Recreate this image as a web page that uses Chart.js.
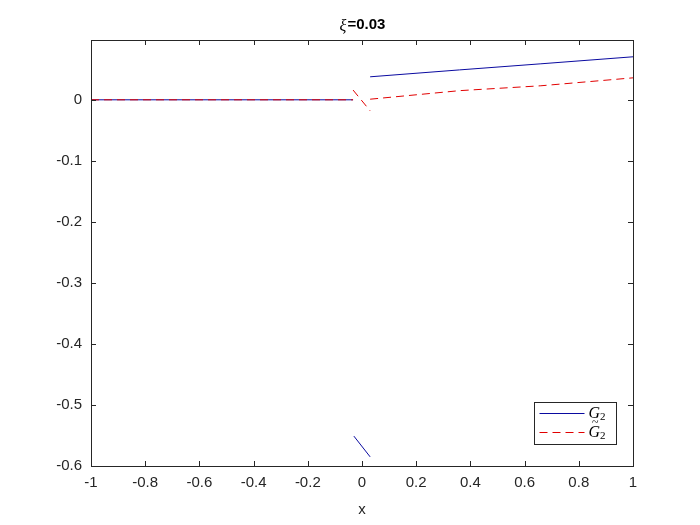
<!DOCTYPE html>
<html lang="en">
<head>
    <meta charset="UTF-8">
    <title>xi=0.03</title>
    <script src="https://cdn.jsdelivr.net/npm/chart.js"></script>
    <style>
        body { margin: 0; background: #fff; }
        #wrap { width: 700px; height: 525px; }
    </style>
</head>
<body>
    <div id="wrap"><canvas id="plot" width="700" height="525"></canvas></div>

    <script>
        // valeurs (null = coupure du trait)
        const g2X = [-1, -0.033, -0.033, -0.03, 0.03, 0.03, 0.03, 0.36, 0.66, 1];
        const g2Y = [0, 0, null, -0.551, -0.585, null, 0.0377, 0.049, 0.059, 0.0705];

        const g2tX = [-1, -0.033, -0.033, -0.033, 0.03, 0.03, 0.03, 0.36, 0.66, 1];
        const g2tY = [0, 0, null, 0.016, -0.018, null, 0.001, 0.015, 0.023, 0.036];

        const xTicks = [-1, -0.8, -0.6, -0.4, -0.2, 0, 0.2, 0.4, 0.6, 0.8, 1];
        const yTicks = [-0.6, -0.5, -0.4, -0.3, -0.2, -0.1, 0];

        const titleText = '=0.03';
        const legendLabels = ['G\u2082', 'G\u0303\u2082'];

        const pts = (xs, ys) => xs.map((x, i) => ({ x: x, y: ys[i] }));
        const fmt = v => String(Math.round(v * 10) / 10);
        const FONT = '"Liberation Sans", Arial, sans-serif';
        const SERIF = '"Liberation Serif", "DejaVu Serif", serif';

        // cadre, graduations vers l'intérieur, titre et légende façon MATLAB
        const matlabAxes = {
            id: 'matlabAxes',
            afterDraw(chart) {
                const c = chart.ctx, a = chart.chartArea;
                const xs = chart.scales.x, ys = chart.scales.y;
                c.save();
                c.strokeStyle = '#262626';
                c.lineWidth = 1;
                c.strokeRect(Math.round(a.left) + 0.5, Math.round(a.top) + 0.5,
                             Math.round(a.right - a.left), Math.round(a.bottom - a.top));
                c.beginPath();
                xTicks.forEach(v => {
                    const px = Math.round(xs.getPixelForValue(v)) + 0.5;
                    c.moveTo(px, a.bottom); c.lineTo(px, a.bottom - 5);
                    c.moveTo(px, a.top); c.lineTo(px, a.top + 5);
                });
                yTicks.forEach(v => {
                    const py = Math.round(ys.getPixelForValue(v)) + 0.5;
                    c.moveTo(a.left, py); c.lineTo(a.left + 5, py);
                    c.moveTo(a.right, py); c.lineTo(a.right - 5, py);
                });
                c.stroke();

                // titre
                c.fillStyle = '#000';
                c.textBaseline = 'middle';
                c.font = 'italic 16px ' + SERIF;
                const xiW = c.measureText('\u03be').width;
                c.font = 'bold 15px ' + FONT;
                const tW = c.measureText(titleText).width;
                const cx = (a.left + a.right) / 2;
                const x0 = cx - (xiW + tW) / 2;
                c.font = 'italic 16px ' + SERIF;
                c.textAlign = 'left';
                c.fillText('\u03be', x0, 27);
                c.font = 'bold 15px ' + FONT;
                c.fillText(titleText, x0 + xiW + 1, 25);

                // légende
                const lx = 534.5, ly = 402.5, lw = 82, lh = 42;
                c.fillStyle = '#fff';
                c.fillRect(lx, ly, lw, lh);
                c.strokeStyle = '#262626';
                c.strokeRect(lx, ly, lw, lh);
                const ds = chart.data.datasets;
                [1, 0].forEach((di, k) => {
                    const y = ly + 11 + k * 19;
                    c.beginPath();
                    c.strokeStyle = ds[di].borderColor;
                    c.setLineDash(ds[di].borderDash || []);
                    c.moveTo(lx + 5, y); c.lineTo(lx + 50, y);
                    c.stroke();
                    c.setLineDash([]);
                    c.fillStyle = '#000';
                    // G + indice abaissé, tilde au-dessus pour le second
                    const lab = ds[di].label;
                    const g = lab.charAt(0);
                    c.font = 'italic 16px ' + SERIF;
                    const gw = c.measureText(g).width;
                    c.fillText(g, lx + 54, y);
                    if (lab.indexOf('\u0303') >= 0) {
                        c.font = '12px ' + SERIF;
                        c.textAlign = 'center';
                        c.fillText('~', lx + 55 + gw / 2, y - 10);
                        c.textAlign = 'left';
                    }
                    c.font = '11px ' + SERIF;
                    c.fillText('2', lx + 54 + gw, y + 4);
                });
                c.restore();
            }
        };

        const ctx = document.getElementById('plot').getContext('2d');
        const chart = new Chart(ctx, {
            type: 'line',
            data: {
                datasets: [{
                    label: legendLabels[1],
                    data: pts(g2tX, g2tY),
                    borderColor: 'rgb(225, 0, 0)',
                    borderWidth: 1,
                    borderDash: [8, 5],
                    pointRadius: 0,
                    spanGaps: false,
                    fill: false,
                    order: 0
                }, {
                    label: legendLabels[0],
                    data: pts(g2X, g2Y),
                    borderColor: 'rgb(10, 10, 160)',
                    borderWidth: 1,
                    pointRadius: 0,
                    spanGaps: false,
                    fill: false,
                    order: 1
                }]
            },
            options: {
                responsive: false,
                animation: false,
                layout: { padding: { top: 40, right: 67, left: 0, bottom: 0 } },
                plugins: {
                    legend: { display: false },
                    tooltip: { enabled: false },
                    title: { display: false }
                },
                scales: {
                    x: {
                        type: 'linear',
                        min: -1, max: 1,
                        grid: { display: false, drawTicks: false },
                        border: { display: false },
                        afterBuildTicks: s => { s.ticks = xTicks.map(v => ({ value: v })); },
                        afterFit: s => { s.height = 59; },
                        ticks: {
                            color: '#262626',
                            padding: 8,
                            maxRotation: 0,
                            autoSkip: false,
                            font: { family: FONT, size: 15 },
                            callback: v => fmt(v)
                        },
                        title: {
                            display: true,
                            text: 'x',
                            color: '#262626',
                            padding: { top: 0, bottom: 6 },
                            font: { family: FONT, size: 15 }
                        }
                    },
                    y: {
                        type: 'linear',
                        min: -0.6, max: 0.098,
                        grid: { display: false, drawTicks: false },
                        border: { display: false },
                        afterBuildTicks: s => { s.ticks = yTicks.map(v => ({ value: v })); },
                        afterFit: s => { s.width = 91; },
                        ticks: {
                            color: '#262626',
                            padding: 9,
                            autoSkip: false,
                            font: { family: FONT, size: 15 },
                            callback: v => fmt(v)
                        }
                    }
                }
            },
            plugins: [matlabAxes]
        });
    </script>
</body>
</html>
